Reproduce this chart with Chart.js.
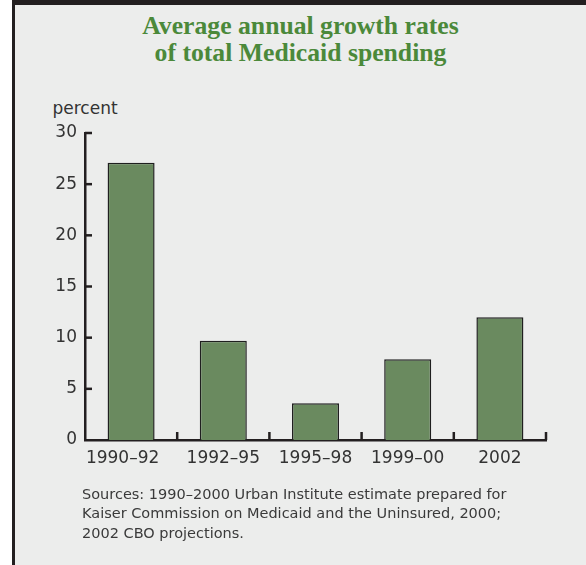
<!DOCTYPE html>
<html>
<head>
<meta charset="utf-8">
<script src="https://cdn.jsdelivr.net/npm/chart.js@4.4.1/dist/chart.umd.min.js"></script>
<style>
  html, body { margin: 0; padding: 0; background: #ffffff; }
  #page { position: relative; width: 586px; height: 565px; overflow: hidden; }
  #panel { position: absolute; left: 12px; top: 0; width: 571px; height: 560px;
           background: #ecedec; border-left: 3px solid #231f20; border-top: 5px solid #231f20; }
  #wrap { position: absolute; left: 0; top: 0; width: 586px; height: 565px; }
  #title { position: absolute; left: 15px; top: 11.5px; width: 571px; text-align: center;
           font: bold 25.7px "Liberation Serif", "Times New Roman", serif; line-height: 27.4px; color: #4b893a; }
  #ylab { position: absolute; left: 52.5px; top: 98px; font: 17px "DejaVu Sans", sans-serif;
          line-height: 20px; color: #333333; }
  #note { position: absolute; left: 82px; top: 484.5px; font: 14.5px "DejaVu Sans", sans-serif;
          line-height: 19.5px; color: #3a3a3a; }
</style>
</head>
<body>
<div id="page">
  <div id="panel"></div>
  <div id="title">Average annual growth rates<br>of total Medicaid spending</div>
  <div id="ylab">percent</div>
  <div id="wrap"><canvas id="c"></canvas></div>
  <div id="note">Sources: 1990–2000 Urban Institute estimate prepared for<br>Kaiser Commission on Medicaid and the Uninsured, 2000;<br>2002 CBO projections.</div>
</div>
<script>
const categories = ['1990–92', '1992–95', '1995–98', '1999–00', '2002'];
const growthRates = [27.1, 9.7, 3.6, 7.9, 12.0];
const yTicks = [0, 5, 10, 15, 20, 25, 30];

const AXIS = '#231f20';

const inwardTicks = {
  id: 'inwardTicks',
  afterDatasetsDraw(chart) {
    const ctx = chart.ctx;
    const xs = chart.scales.x, ys = chart.scales.y;
    const left = chart.chartArea.left, bottom = chart.chartArea.bottom;
    ctx.save();
    ctx.strokeStyle = AXIS;
    ctx.lineWidth = 2.5;
    ctx.lineCap = 'butt';
    yTicks.forEach(v => {
      if (v === 0) return;
      const y = ys.getPixelForValue(v);
      ctx.beginPath();
      ctx.moveTo(left, y);
      ctx.lineTo(left + 7, y);
      ctx.stroke();
    });
    for (let i = 1; i <= categories.length; i++) {
      const x = xs.getPixelForValue(i - 0.5);
      ctx.beginPath();
      ctx.moveTo(x, bottom);
      ctx.lineTo(x, bottom - 8);
      ctx.stroke();
    }
    ctx.restore();
  }
};

new Chart(document.getElementById('c'), {
  type: 'bar',
  data: {
    labels: categories,
    datasets: [{
      data: growthRates,
      backgroundColor: '#6a8a5f',
      borderColor: '#1f1f1f',
      borderWidth: 1.5,
      barPercentage: 0.51,
      categoryPercentage: 1.0
    }]
  },
  options: {
    responsive: true,
    maintainAspectRatio: false,
    animation: false,
    layout: { padding: { top: 133, right: 40, bottom: 75, left: 0 } },
    plugins: { legend: { display: false }, title: { display: false }, tooltip: { enabled: false } },
    scales: {
      x: {
        grid: { display: false, drawTicks: false },
        border: { display: true, color: AXIS, width: 2.5 },
        ticks: {
          color: '#333333', font: { family: 'DejaVu Sans', size: 17 }, padding: 8,
          maxRotation: 0, minRotation: 0, autoSkip: false,
          callback: (v, i) => i === 0 ? categories[i] + '\u2002\u2002' : categories[i]
        },
        afterFit: s => { s.height = 50; }
      },
      y: {
        min: 0, max: 30,
        grid: { display: false, drawTicks: false },
        border: { display: true, color: AXIS, width: 2.5 },
        ticks: { stepSize: 5, color: '#333333', font: { family: 'DejaVu Sans', size: 17 }, padding: 8 },
        afterFit: s => { s.width = 85; }
      }
    }
  },
  plugins: [inwardTicks]
});
</script>
</body>
</html>
